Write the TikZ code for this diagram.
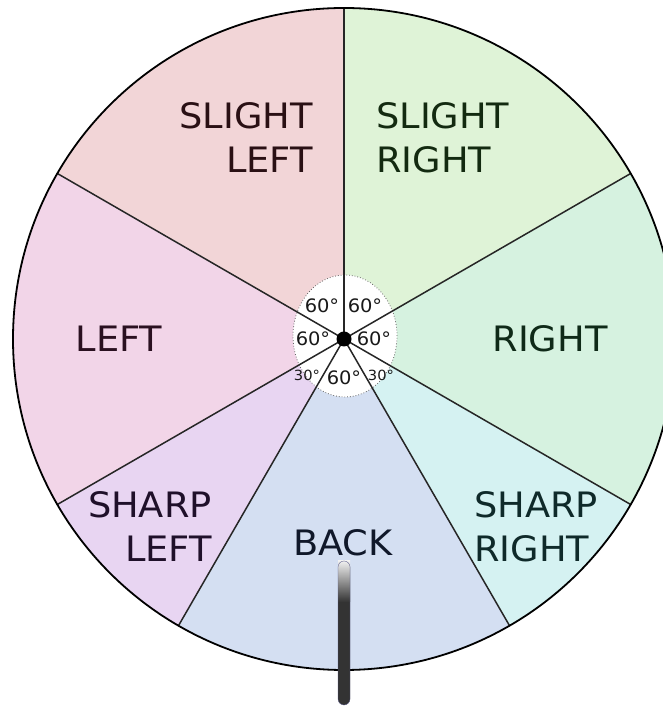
\documentclass[tikz,border=0pt]{standalone}
\usepackage{fontspec}
\setmainfont[FakeStretch=1.05]{DejaVu Sans}
\usetikzlibrary{shapes.geometric}
\begin{document}
\begin{tikzpicture}[x=1pt,y=1pt,
  big/.style={font=\fontsize{35}{44}\selectfont, inner sep=0pt},
  small/.style={font=\fontsize{18.5}{20}\selectfont, inner sep=0pt, text=black!90},
  tiny/.style={font=\fontsize{14}{15}\selectfont, inner sep=0pt, text=black!90},
  sepline/.style={draw=black!85, line width=1.5pt}]
\useasboundingbox (0,0) rectangle (663,706);
\clip (0,0) rectangle (663,706);
\definecolor{cSL}{HTML}{F2D5D7}
\definecolor{cSR}{HTML}{DFF3D7}
\definecolor{cR}{HTML}{D6F2E0}
\definecolor{cSHR}{HTML}{D5F2F2}
\definecolor{cB}{HTML}{D4DFF2}
\definecolor{cSHL}{HTML}{E8D5F2}
\definecolor{cL}{HTML}{F2D5E8}
\coordinate (C) at (344,367);
\def\R{331}
\fill[cSR]  (C) -- ++(30:\R)   arc[start angle=30,   end angle=90,   radius=\R] -- cycle;
\fill[cR]   (C) -- ++(-30:\R)  arc[start angle=-30,  end angle=30,   radius=\R] -- cycle;
\fill[cSHR] (C) -- ++(-60:\R)  arc[start angle=-60,  end angle=-30,  radius=\R] -- cycle;
\fill[cB]   (C) -- ++(-120:\R) arc[start angle=-120, end angle=-60,  radius=\R] -- cycle;
\fill[cSHL] (C) -- ++(-150:\R) arc[start angle=-150, end angle=-120, radius=\R] -- cycle;
\fill[cL]   (C) -- ++(150:\R)  arc[start angle=150,  end angle=210,  radius=\R] -- cycle;
\fill[cSL]  (C) -- ++(90:\R)   arc[start angle=90,   end angle=150,  radius=\R] -- cycle;
% inner white area
\node[ellipse, minimum width=104pt, minimum height=122pt, fill=white, draw=black!60, dotted, line width=0.8pt, inner sep=0pt] (inner) at (345,370) {};
% separator lines
\foreach \a in {90,30,-30,-60,-120,-150,150}
  \draw[sepline] (C) -- ++(\a:\R);
\draw[line width=1.8pt, black] (C) circle[radius=\R];
% labels
\node[big, align=right, anchor=east, text={rgb,255:red,42;green,16;blue,20}] (sl) at (313,568) {SLIGHT\\LEFT};
\node[big, align=left, anchor=west, text={rgb,255:red,19;green,42;blue,16}] (sr) at (376,568) {SLIGHT\\RIGHT};
\node[big, text={rgb,255:red,42;green,16;blue,32}] (l) at (119,367) {LEFT};
\node[big, text={rgb,255:red,15;green,42;blue,24}] (r) at (550,367) {RIGHT};
\node[big, align=right, anchor=east, text={rgb,255:red,31;green,16;blue,42}] (shl) at (212,179) {SHARP\\LEFT};
\node[big, align=left, anchor=west, text={rgb,255:red,15;green,42;blue,42}] (shr) at (474,179) {SHARP\\RIGHT};
\node[big, text={rgb,255:red,16;green,24;blue,42}] (b) at (343,163) {BACK};
% angle labels
\node[small] (a1) at (322,400) {60°};
\node[small] (a2) at (365,400) {60°};
\node[small] (a3) at (313,367) {60°};
\node[small] (a4) at (374,367) {60°};
\node[small] (a5) at (344,328) {60°};
\node[tiny] (a6) at (307,331) {30°};
\node[tiny] (a7) at (381,331) {30°};
% center dot
\fill[black] (C) circle[radius=7.5];
% rod
\fill[black!80, rounded corners=6pt] (338,1) rectangle (350,145);
\shade[top color=black!6, bottom color=black!80] (338,145) rectangle (350,104);
\draw[black!40!blue!30!gray, line width=0.3pt, rounded corners=6pt] (338,1) rectangle (350,145);
\end{tikzpicture}
\end{document}
